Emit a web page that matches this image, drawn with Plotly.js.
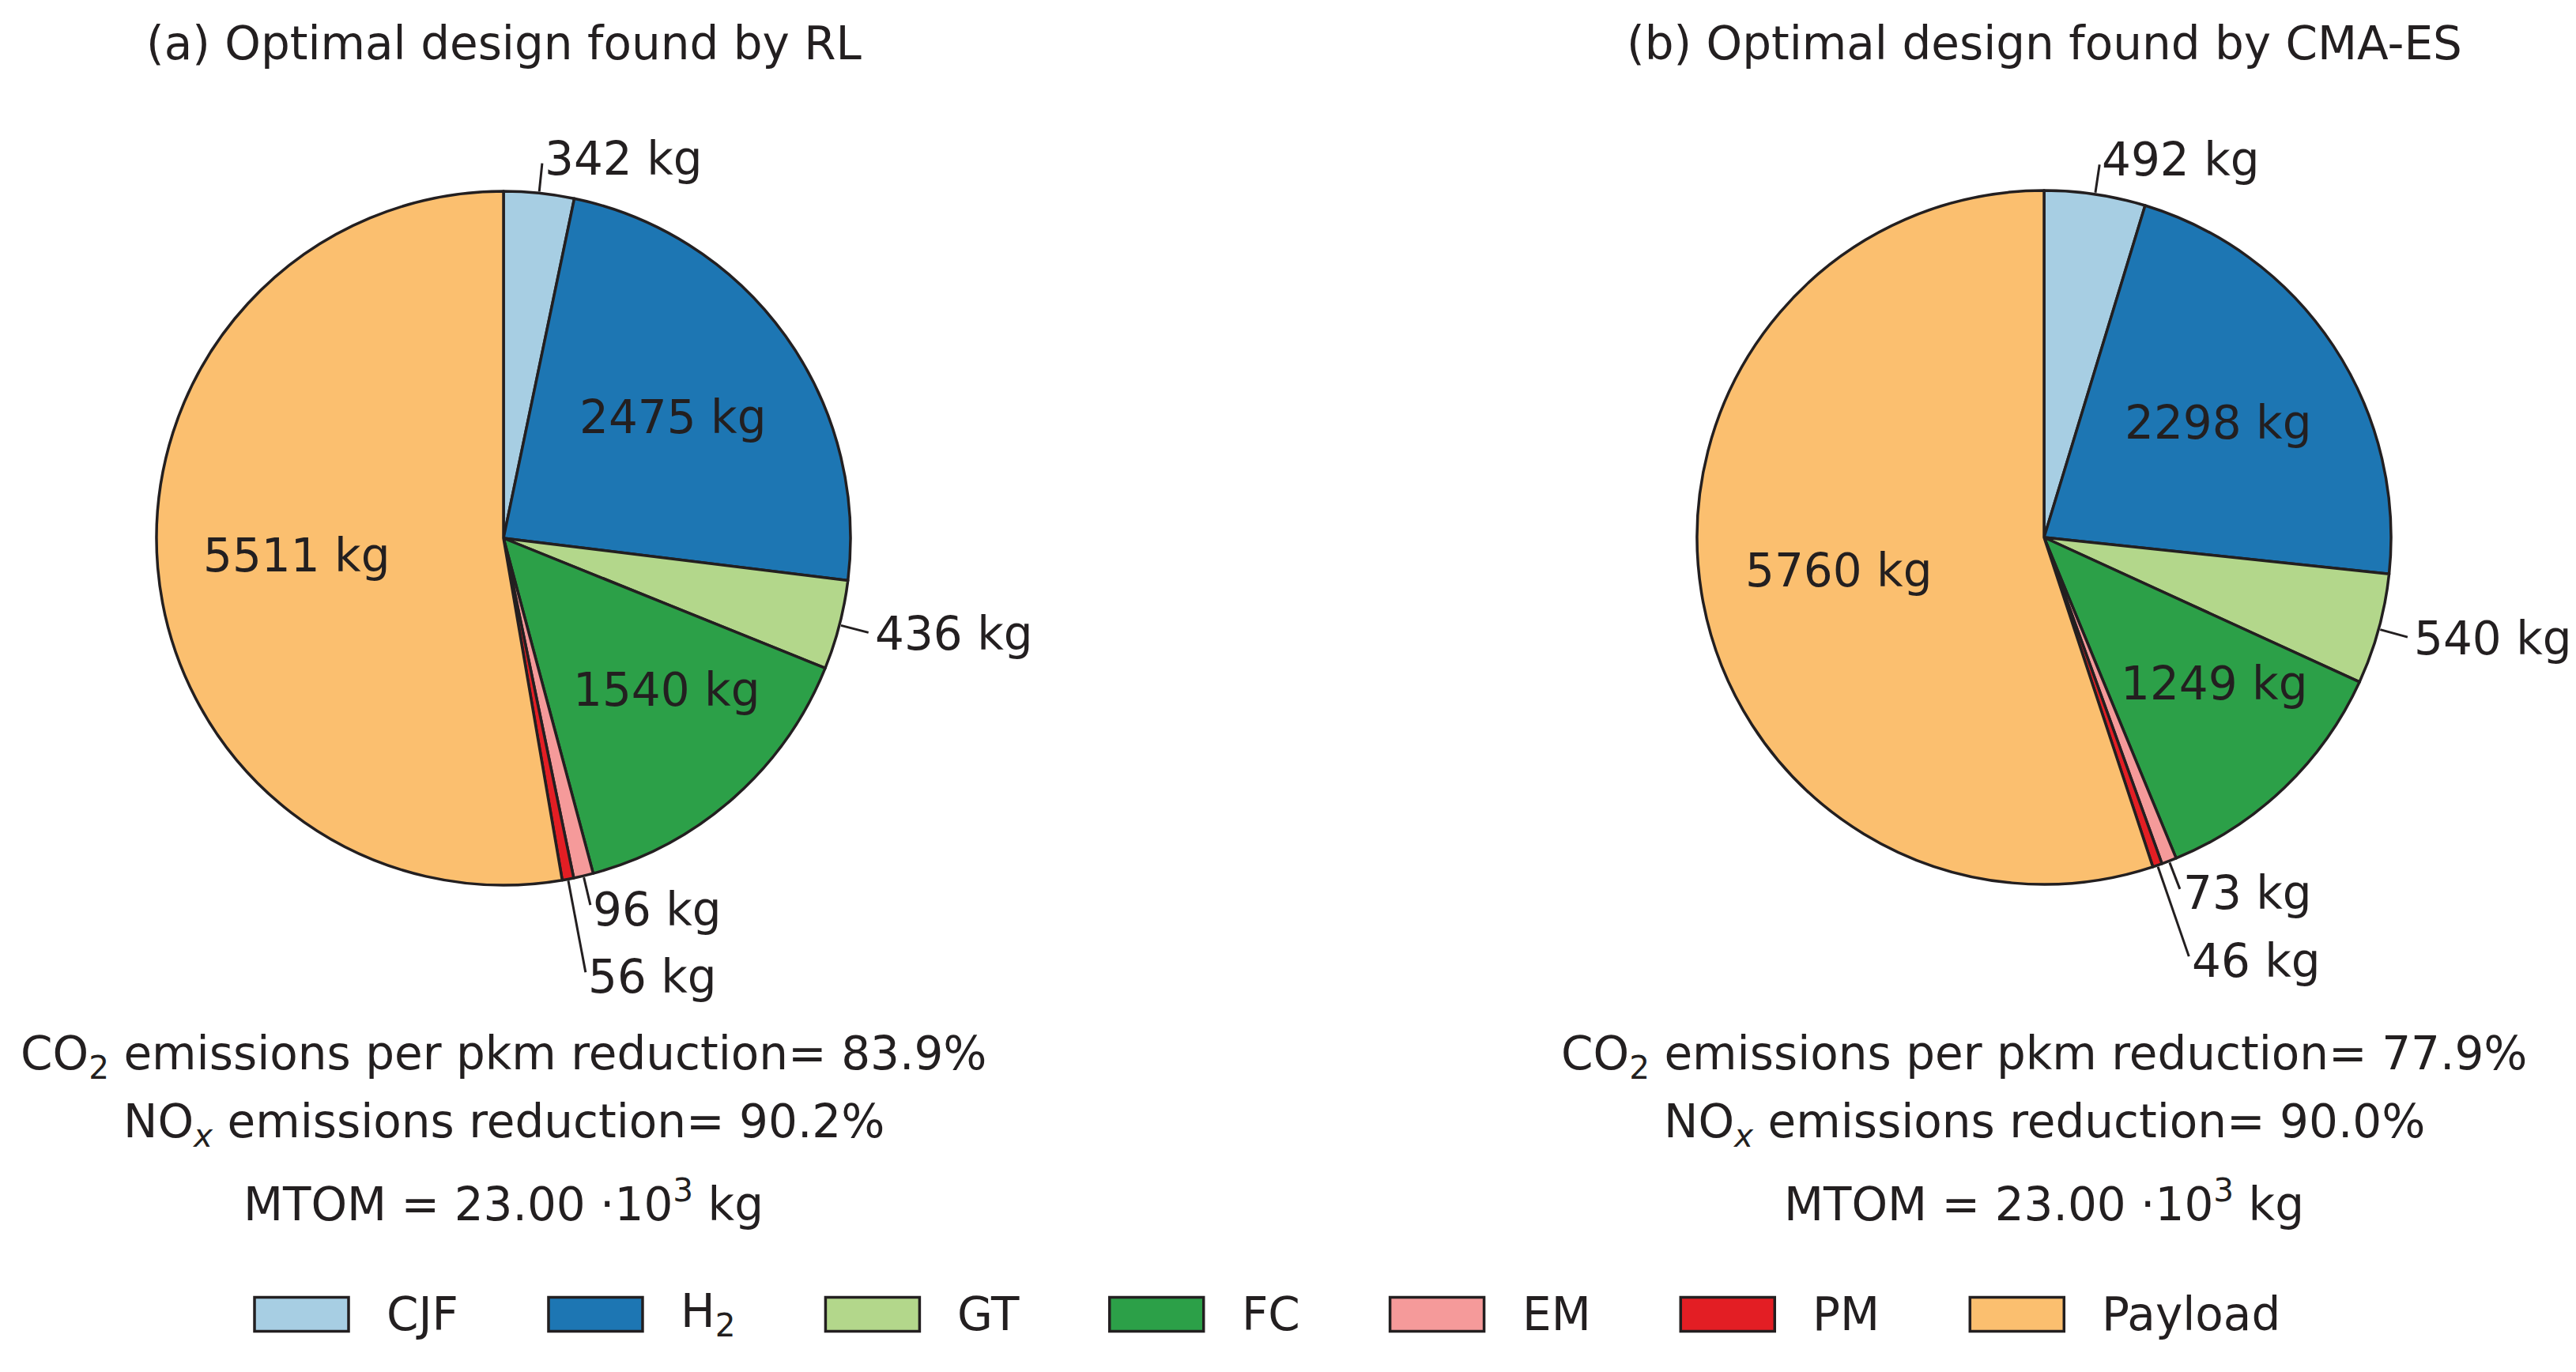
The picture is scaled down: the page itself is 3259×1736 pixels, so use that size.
<!DOCTYPE html>
<html>
<head>
<meta charset="utf-8">
<script src="https://cdn.plot.ly/plotly-3.0.1.min.js"></script>
<style>
html,body{margin:0;padding:0;background:#ffffff;}
#chart{width:3259px;height:1736px;}
</style>
</head>
<body>
<div id="chart"></div>
<script>
// ---------------- data ----------------
const categories = ['CJF', 'H2', 'GT', 'FC', 'EM', 'PM', 'Payload'];
const categoryLabels = ['CJF', 'H<sub>2</sub>', 'GT', 'FC', 'EM', 'PM', 'Payload'];
const massRL = [342, 2475, 436, 1540, 96, 56, 5511];
const massCMAES = [492, 2298, 540, 1249, 73, 46, 5760];
const panelTitles = ['(a) Optimal design found by RL', '(b) Optimal design found by CMA-ES'];
const co2Reduction = [83.9, 77.9];
const noxReduction = [90.2, 90.0];
const mtomThousandKg = [23.00, 23.00];

// ---------------- style ----------------
const sliceColors = ['#a7cee3', '#1d76b3', '#b3d78b', '#2ca048', '#f59a9a', '#e31e24', '#fbbf6f'];
const labelInside = [false, true, false, true, false, false, true];
const labelNudge = { FC: { x: 32, y: -5 } };

const W = 3259, H = 1736;
const FONT = 'DejaVu Sans', FS = 58, INK = '#231f20';
const panels = [
  { cx: 637, cy: 681, r: 439, values: massRL },
  { cx: 2586, cy: 680, r: 439, values: massCMAES }
];
const px = x => x / W;
const py = y => 1 - y / H;
const txtFont = { family: FONT, size: FS, color: INK };

const traces = [], annotations = [], shapes = [];

function addText(text, x, y, xanchor, yanchor) {
  annotations.push({
    text: text, x: px(x), y: py(y), xref: 'paper', yref: 'paper',
    xanchor: xanchor || 'center', yanchor: yanchor || 'middle',
    showarrow: false, font: txtFont
  });
}

panels.forEach((p, i) => {
  traces.push({
    type: 'pie',
    values: p.values,
    labels: categories,
    sort: false,
    direction: 'clockwise',
    rotation: 0,
    marker: { colors: sliceColors, line: { color: INK, width: 3.5 } },
    textinfo: 'none',
    hoverinfo: 'label+value',
    showlegend: false,
    domain: { x: [px(p.cx - p.r), px(p.cx + p.r)], y: [py(p.cy + p.r), py(p.cy - p.r)] }
  });

  // panel title
  addText(panelTitles[i], p.cx, 55);

  // slice labels
  const total = p.values.reduce((a, b) => a + b, 0);
  let cum = 0;
  const placed = [];
  p.values.forEach((v, k) => {
    const th = 2 * Math.PI * (cum + v / 2) / total;
    cum += v;
    const s = Math.sin(th), c = Math.cos(th);
    const txt = v + ' kg';
    if (labelInside[k]) {
      const n = labelNudge[categories[k]] || { x: 0, y: 0 };
      addText(txt, p.cx + 0.6 * p.r * s + n.x, p.cy - 0.6 * p.r * c + n.y);
    } else {
      let R = 1.1 * p.r;
      const side = s >= 0 ? 1 : -1;
      const yAt = RR => p.cy - RR * c;
      while (placed.some(q => q.side === side && Math.abs(q.y - yAt(R)) < 85) && R < 2 * p.r) R += 1;
      placed.push({ side: side, y: yAt(R) });
      shapes.push({
        type: 'line', xref: 'paper', yref: 'paper',
        x0: px(p.cx + (p.r + 2) * s), y0: py(p.cy - (p.r + 2) * c),
        x1: px(p.cx + (R - 6) * s), y1: py(p.cy - (R - 6) * c),
        line: { color: INK, width: 3 }
      });
      addText(txt, p.cx + R * s, p.cy - R * c, side > 0 ? 'left' : 'right', 'middle');
    }
  });

  // summary lines
  addText('CO<sub>2</sub> emissions per pkm reduction= ' + co2Reduction[i].toFixed(1) + '%', p.cx, 1337);
  addText('NO<sub><i>x</i></sub> emissions reduction= ' + noxReduction[i].toFixed(1) + '%', p.cx, 1423);
  addText('MTOM = ' + mtomThousandKg[i].toFixed(2) + ' \u00b710<sup>3</sup> kg', p.cx, 1520);
});

// ---------------- legend (large patches) ----------------
const ctx = document.createElement('canvas').getContext('2d');
ctx.font = FS + 'px "DejaVu Sans"';
const textW = k => k === 'H2'
  ? ctx.measureText('H').width + 0.7 * ctx.measureText('2').width
  : ctx.measureText(k).width;
let lx = 322;
const ly = 1663, handleW = 119, handleH = 43, textPad = 46, colSpace = 116;
categories.forEach((k, j) => {
  shapes.push({
    type: 'rect', xref: 'paper', yref: 'paper',
    x0: px(lx), x1: px(lx + handleW), y0: py(ly + handleH / 2), y1: py(ly - handleH / 2),
    fillcolor: sliceColors[j], line: { color: INK, width: 3.5 }
  });
  addText(categoryLabels[j], lx + handleW + textPad, ly, 'left', 'middle');
  lx += handleW + textPad + textW(k) + colSpace;
});

Plotly.newPlot('chart', traces, {
  width: W, height: H,
  margin: { l: 0, r: 0, t: 0, b: 0 },
  paper_bgcolor: '#ffffff',
  plot_bgcolor: '#ffffff',
  showlegend: false,
  font: txtFont,
  annotations: annotations,
  shapes: shapes
}, { displayModeBar: false, staticPlot: true });
</script>
</body>
</html>
